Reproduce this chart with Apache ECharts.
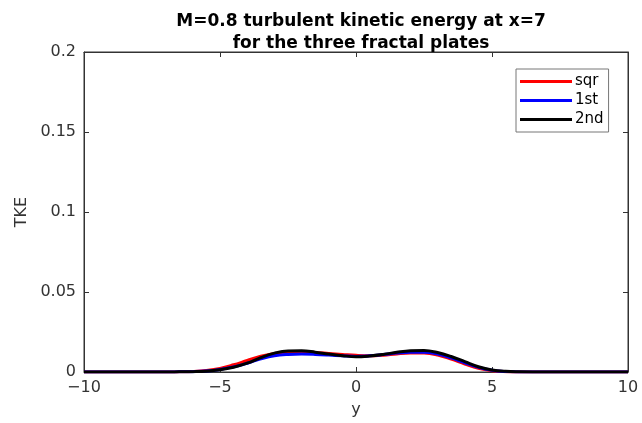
<!DOCTYPE html>
<html><head><meta charset="utf-8">
<script src="https://cdn.jsdelivr.net/npm/echarts@6/dist/echarts.min.js"></script>
<style>html,body{margin:0;padding:0;background:#fff}#c{width:642px;height:423px}</style>
</head><body><div id="c"></div>
<script>
const yPos = [-10,-9.5,-9,-8.5,-8,-7.5,-7,-6.5,-6,-5.5,-5,-4.5,-4,-3.5,-3,-2.5,-2,-1.5,-1,-0.5,0,0.5,1,1.5,2,2.5,3,3.5,4,4.5,5,5.5,6,6.5,7,7.5,8,8.5,9,9.5,10];
const sqr = [0,0,0,0,0,0,0,0.0001,0.0003,0.0009,0.0022,0.0045,0.0072,0.0098,0.0116,0.0124,0.0125,0.0122,0.0116,0.0110,0.0104,0.0101,0.0105,0.0113,0.0118,0.0118,0.0106,0.0080,0.0050,0.0023,0.0008,0.0002,0,0,0,0,0,0,0,0,0];
const first = [0,0,0,0,0,0,0,0.0001,0.0002,0.0006,0.0016,0.0032,0.0055,0.0082,0.0102,0.0110,0.0112,0.0110,0.0106,0.0101,0.0097,0.0101,0.0109,0.0118,0.0124,0.0124,0.0112,0.0088,0.0058,0.0029,0.0011,0.0003,0,0,0,0,0,0,0,0,0];
const second = [0,0,0,0,0,0,0,0.0001,0.0002,0.0005,0.0014,0.0030,0.0055,0.0090,0.0118,0.0132,0.0133,0.0124,0.0112,0.0102,0.0095,0.0100,0.0110,0.0123,0.0133,0.0135,0.0122,0.0097,0.0065,0.0033,0.0013,0.0004,0.0001,0,0,0,0,0,0,0,0];
const seriesNames = ['sqr','1st','2nd'];
const titleLines = ['M=0.8 turbulent kinetic energy at x=7','for the three fractal plates'];

const pair = arr => yPos.map((x,i)=>[x,arr[i]]);
const axCol = '#333';
const font = 'DejaVu Sans';
const chart = echarts.init(document.getElementById('c'), null, {renderer:'canvas'});
chart.setOption({
  animation:false,
  backgroundColor:'#fff',
  title:{text:titleLines.join('\n'), left:356, top:6, textAlign:'center',
    textStyle:{fontFamily:font,fontSize:17,fontWeight:'bold',color:'#000',lineHeight:22}},
  grid:{left:84,right:14,top:52,bottom:51,show:true,borderColor:axCol,borderWidth:1,backgroundColor:'#fff'},
  legend:{orient:'vertical',left:516,top:69,data:seriesNames,icon:'rect',itemWidth:52,itemHeight:3,
    itemGap:4,backgroundColor:'#fff',borderColor:'#777',borderWidth:1,padding:[5,5,5,4],
    textStyle:{fontFamily:font,fontSize:15,color:'#000',padding:[0,0,0,-2]}},
  xAxis:[{type:'value',min:-10,max:10,interval:5,name:'y',nameLocation:'middle',nameGap:30,
    nameTextStyle:{fontFamily:font,fontSize:16,color:axCol},
    axisLine:{onZero:false,lineStyle:{color:axCol}},axisTick:{inside:true,length:5,lineStyle:{color:axCol}},
    axisLabel:{fontFamily:font,fontSize:16,color:axCol,margin:8,formatter:v=>String(v).replace('-','\u2212')},splitLine:{show:false}},
    {type:'value',position:'top',min:-10,max:10,interval:5,axisLine:{onZero:false,lineStyle:{color:axCol}},
    axisTick:{inside:true,length:5,lineStyle:{color:axCol}},axisLabel:{show:false},splitLine:{show:false}}],
  yAxis:[{type:'value',min:0,max:0.2,interval:0.05,name:'TKE',nameLocation:'middle',nameGap:54,
    nameTextStyle:{fontFamily:font,fontSize:16,color:axCol},
    axisLine:{show:true,onZero:false,lineStyle:{color:axCol}},axisTick:{show:true,inside:true,length:5,lineStyle:{color:axCol}},
    axisLabel:{fontFamily:font,fontSize:16,color:axCol,margin:8,formatter:v=>String(+v.toFixed(2))},splitLine:{show:false}},
    {type:'value',position:'right',min:0,max:0.2,interval:0.05,axisLine:{show:true,onZero:false,lineStyle:{color:axCol}},
    axisTick:{show:true,inside:true,length:5,lineStyle:{color:axCol}},axisLabel:{show:false},splitLine:{show:false}}],
  series:[
    {name:seriesNames[0],type:'line',data:pair(sqr),smooth:0.4,showSymbol:false,lineStyle:{color:'#ff0000',width:3},itemStyle:{color:'#ff0000'}},
    {name:seriesNames[1],type:'line',data:pair(first),smooth:0.4,showSymbol:false,lineStyle:{color:'#0000ff',width:3},itemStyle:{color:'#0000ff'}},
    {name:seriesNames[2],type:'line',data:pair(second),smooth:0.4,showSymbol:false,lineStyle:{color:'#000000',width:3},itemStyle:{color:'#000000'}}
  ]
});
</script></body></html>
